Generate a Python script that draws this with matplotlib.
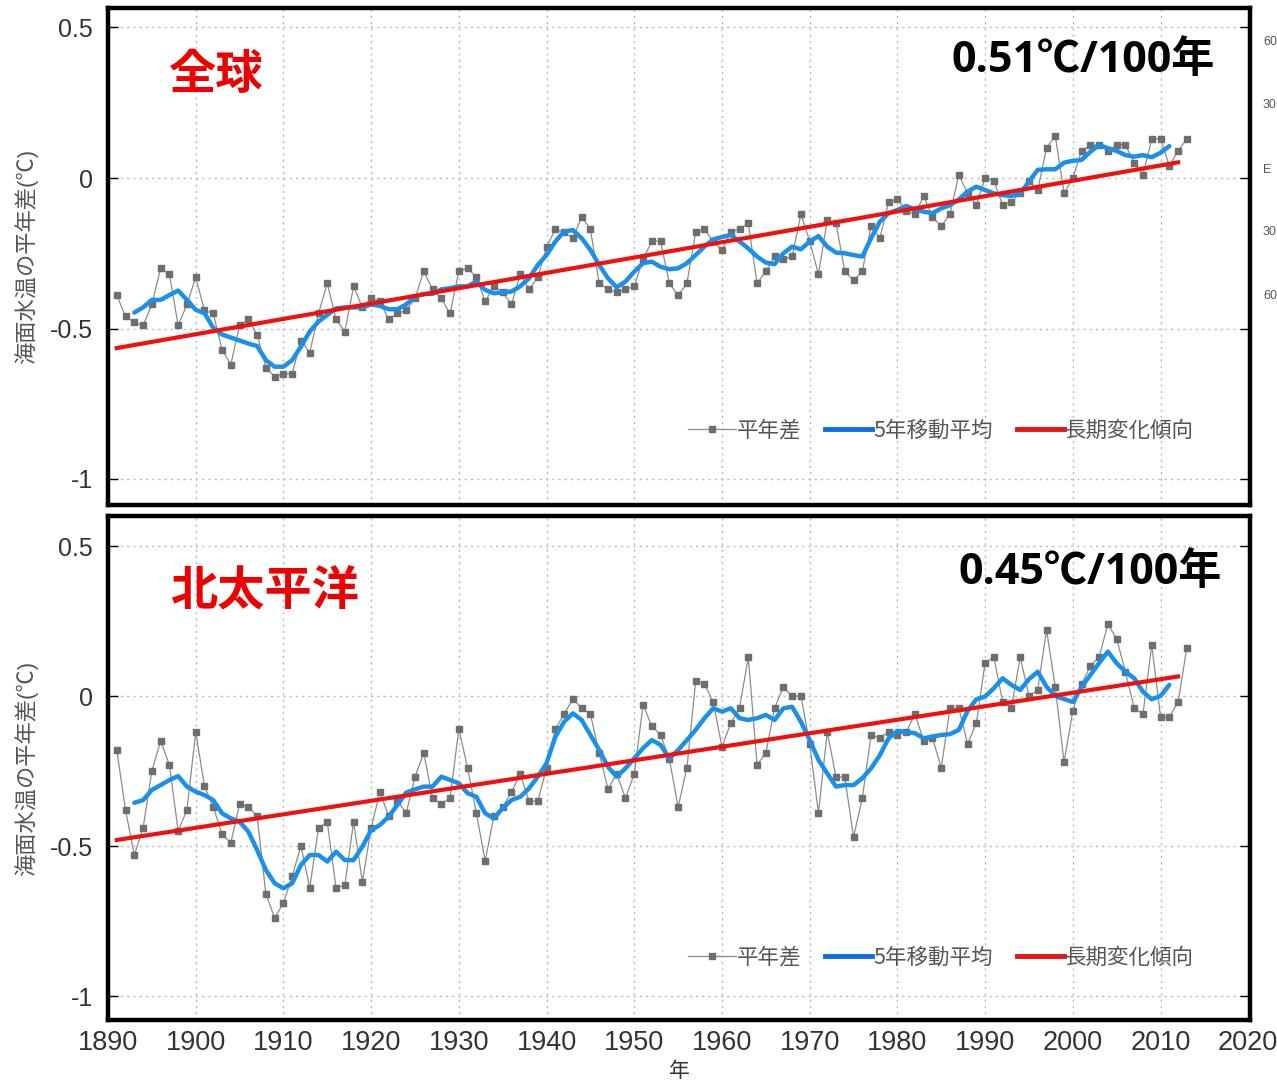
import numpy as np
import matplotlib
matplotlib.use('Agg')
import matplotlib.pyplot as plt
from matplotlib.lines import Line2D

plt.rcParams['font.family'] = ['Liberation Sans', 'Noto Sans CJK JP', 'DejaVu Sans']

years = np.arange(1891, 2014)
ma_years = np.arange(1893, 2012)
trend_years = [1891, 2012]

# 全球: 平年差
glob_anom = [-0.39, -0.46, -0.48, -0.49, -0.42, -0.30, -0.32, -0.49, -0.42, -0.33,
             -0.44, -0.45, -0.57, -0.62, -0.49, -0.47, -0.52, -0.63, -0.66, -0.65,
             -0.65, -0.54, -0.58, -0.45, -0.35, -0.47, -0.51, -0.36, -0.43, -0.40,
             -0.41, -0.47, -0.45, -0.44, -0.40, -0.31, -0.37, -0.40, -0.45, -0.31,
             -0.30, -0.33, -0.41, -0.36, -0.38, -0.42, -0.32, -0.37, -0.33, -0.23,
             -0.17, -0.18, -0.20, -0.13, -0.17, -0.35, -0.37, -0.38, -0.37, -0.36,
             -0.27, -0.21, -0.21, -0.35, -0.39, -0.35, -0.18, -0.17, -0.21, -0.24,
             -0.18, -0.17, -0.15, -0.35, -0.31, -0.26, -0.27, -0.26, -0.12, -0.21,
             -0.32, -0.14, -0.15, -0.31, -0.34, -0.31, -0.16, -0.20, -0.08, -0.07,
             -0.11, -0.12, -0.06, -0.13, -0.16, -0.12, 0.01, -0.05, -0.09, 0.00,
             -0.01, -0.09, -0.08, -0.05, -0.01, -0.04, 0.10, 0.14, -0.05, 0.00,
             0.09, 0.11, 0.11, 0.09, 0.11, 0.11, 0.05, 0.01, 0.13, 0.13,
             0.04, 0.09, 0.13]

# 全球: 5年移動平均
glob_ma = [-0.447, -0.43, -0.405, -0.405, -0.389, -0.374, -0.405, -0.438, -0.449,
           -0.498, -0.52, -0.53, -0.54, -0.55, -0.558, -0.605, -0.627, -0.627, -0.605,
           -0.56, -0.51, -0.477, -0.455, -0.433, -0.43, -0.43, -0.43, -0.42, -0.425,
           -0.436, -0.436, -0.42, -0.394, -0.385, -0.385, -0.37, -0.366, -0.36, -0.36,
           -0.344, -0.372, -0.383, -0.38, -0.377, -0.36, -0.333, -0.289, -0.256, -0.211,
           -0.178, -0.173, -0.2, -0.239, -0.289, -0.333, -0.363, -0.344, -0.311, -0.283,
           -0.278, -0.295, -0.303, -0.30, -0.283, -0.256, -0.228, -0.204, -0.196, -0.189,
           -0.211, -0.234, -0.261, -0.281, -0.286, -0.25, -0.228, -0.237, -0.211, -0.193,
           -0.228, -0.248, -0.25, -0.256, -0.261, -0.2, -0.145, -0.117, -0.106, -0.093,
           -0.104, -0.112, -0.117, -0.101, -0.09, -0.071, -0.045, -0.029, -0.04, -0.051,
           -0.057, -0.06, -0.051, -0.012, 0.027, 0.029, 0.029, 0.051, 0.057, 0.06,
           0.087, 0.11, 0.099, 0.09, 0.076, 0.071, 0.076, 0.069, 0.084, 0.106]

glob_trend = [-0.565, 0.052]

# 北太平洋: 平年差
npac_anom = [-0.18, -0.38, -0.53, -0.44, -0.25, -0.15, -0.23, -0.45, -0.38, -0.12,
             -0.30, -0.37, -0.46, -0.49, -0.36, -0.37, -0.40, -0.66, -0.74, -0.69,
             -0.60, -0.50, -0.64, -0.44, -0.42, -0.64, -0.63, -0.42, -0.62, -0.44,
             -0.32, -0.40, -0.35, -0.39, -0.27, -0.19, -0.34, -0.36, -0.34, -0.11,
             -0.24, -0.39, -0.55, -0.40, -0.37, -0.32, -0.26, -0.35, -0.35, -0.24,
             -0.11, -0.06, -0.01, -0.04, -0.06, -0.19, -0.31, -0.26, -0.34, -0.26,
             -0.03, -0.10, -0.13, -0.21, -0.37, -0.24, 0.05, 0.04, -0.02, -0.17,
             -0.09, -0.04, 0.13, -0.23, -0.19, -0.04, 0.03, 0.00, 0.00, -0.16,
             -0.39, -0.12, -0.27, -0.27, -0.47, -0.34, -0.13, -0.14, -0.12, -0.13,
             -0.12, -0.06, -0.15, -0.14, -0.24, -0.04, -0.04, -0.16, -0.09, 0.11,
             0.13, -0.02, -0.04, 0.13, 0.00, 0.02, 0.22, 0.03, -0.22, -0.05,
             0.04, 0.10, 0.13, 0.24, 0.19, 0.08, -0.04, -0.06, 0.17, -0.07,
             -0.07, -0.02, 0.16]

# 北太平洋: 5年移動平均
npac_ma = [-0.356, -0.347, -0.313, -0.297, -0.28, -0.267, -0.302, -0.319, -0.33,
           -0.347, -0.391, -0.408, -0.419, -0.452, -0.513, -0.58, -0.624, -0.641, -0.624,
           -0.563, -0.53, -0.53, -0.552, -0.519, -0.547, -0.547, -0.502, -0.447, -0.43,
           -0.402, -0.363, -0.322, -0.311, -0.302, -0.302, -0.269, -0.28, -0.291, -0.324,
           -0.336, -0.391, -0.408, -0.374, -0.347, -0.336, -0.308, -0.269, -0.224, -0.136,
           -0.086, -0.058, -0.08, -0.13, -0.18, -0.236, -0.269, -0.241, -0.208, -0.174,
           -0.147, -0.163, -0.208, -0.18, -0.147, -0.113, -0.074, -0.041, -0.052, -0.041,
           -0.074, -0.08, -0.074, -0.063, -0.08, -0.041, -0.036, -0.086, -0.147, -0.213,
           -0.258, -0.302, -0.297, -0.297, -0.274, -0.241, -0.197, -0.141, -0.116, -0.12,
           -0.124, -0.141, -0.135, -0.13, -0.127, -0.113, -0.05, -0.011, -0.002, 0.026,
           0.059, 0.037, 0.02, 0.056, 0.081, 0.031, 0.0, -0.01, -0.02, 0.03,
           0.07, 0.11, 0.148, 0.109, 0.081, 0.059, 0.014, -0.011, 0.0, 0.037]

npac_trend = [-0.48, 0.065]

panels = [
    ('全球', '0.51℃/100年', glob_anom, glob_ma, glob_trend),
    ('北太平洋', '0.45℃/100年', npac_anom, npac_ma, npac_trend),
]

W, H = 1277, 1080
fig = plt.figure(figsize=(W / 100, H / 100), dpi=100)

# 位置 (px): left, right, top, bottom, y of zero, px per 1 degree
boxes = [(108, 1250, 8, 505, 178, 301), (108, 1250, 516, 1020, 696, 300)]

gray_line = '#8c8c8c'
gray_mark = '#6e6e6e'
blue = '#1a90ea'
red = '#f01010'

axes = []
for i, (name, rate, anom, ma, trend) in enumerate(panels):
    l, r, t, b, y0, s = boxes[i]
    ax = fig.add_axes([l / W, 1 - b / H, (r - l) / W, (b - t) / H])
    axes.append(ax)
    ax.plot(years, anom, color=gray_line, lw=0.9, marker='s', ms=4.8,
            mfc=gray_mark, mec=gray_mark, zorder=2)
    ax.plot(ma_years, ma, color=blue, lw=3.2, solid_capstyle='round', zorder=3)
    ax.plot(trend_years, trend, color=red, lw=3.0, zorder=4)

    ax.set_xlim(1890, 2020.2)
    ax.set_ylim((y0 - b) / s, (y0 - t) / s)
    ax.set_xticks(np.arange(1890, 2021, 10))
    ax.set_yticks([0.5, 0, -0.5, -1])
    ax.set_yticklabels(['0.5', '0', '-0.5', '-1'])
    ax.grid(True, color='#b8b8b8', linestyle=(0, (1.5, 3)), linewidth=1)
    ax.tick_params(axis='y', direction='in', length=7, width=1, right=True,
                   labelsize=18, labelcolor='#333333', pad=11)
    ax.tick_params(axis='x', direction='in', length=0, labelsize=19.5,
                   labelcolor='#333333', pad=7)
    if i == 0:
        ax.tick_params(axis='x', labelbottom=False)
    for sp in ax.spines.values():
        sp.set_linewidth(3.2)
        sp.set_color('black')

    ax.set_ylabel('海面水温の平年差(℃)', fontsize=16, color='#555555')
    ax.yaxis.set_label_coords(-0.061, 0.5)

    handles = [
        Line2D([], [], color=gray_line, lw=0.9, marker='s', ms=4.5,
               mfc=gray_mark, mec=gray_mark),
        Line2D([], [], color='#0a6cf0', lw=3.5),
        Line2D([], [], color=red, lw=3.5),
    ]
    leg = ax.legend(handles, ['平年差', '5年移動平均', '長期変化傾向'], ncol=3,
                    loc='center right', bbox_to_anchor=(0.968, 0.15 if i == 0 else 0.124),
                    frameon=False, fontsize=15.5, handlelength=2.2,
                    handletextpad=0.05, columnspacing=1.1, numpoints=1)
    for txt in leg.get_texts():
        txt.set_color('#555555')
        txt.set_family(['Noto Sans CJK JP', 'DejaVu Sans'])

axes[1].set_xlabel('年', fontsize=15, color='#333333', labelpad=4)

# パネル見出し
fig.text(168 / W, 1 - 75 / H, '全球', color='#ee0000', fontsize=34,
         fontweight='bold', ha='left', va='center', family=['Noto Sans CJK JP'])
fig.text(170 / W, 1 - 590 / H, '北太平洋', color='#ee0000', fontsize=34,
         fontweight='bold', ha='left', va='center', family=['Noto Sans CJK JP'])
fig.text(1215 / W, 1 - 60 / H, '0.51℃/100年', color='black', fontsize=31,
         fontweight='bold', ha='right', va='center',
         family=['Open Sans', 'Noto Sans CJK JP'])
fig.text(1222 / W, 1 - 572 / H, '0.45℃/100年', color='black', fontsize=31,
         fontweight='bold', ha='right', va='center',
         family=['Open Sans', 'Noto Sans CJK JP'])

# 右端に切れて残った地図の目盛
for lab, yy in [('60', 42), ('30', 105), ('E', 170), ('30', 232), ('60', 296)]:
    fig.text(1263 / W, 1 - yy / H, lab, color='#555555', fontsize=9,
             ha='left', va='center')

fig.savefig('out.png', dpi=100)
